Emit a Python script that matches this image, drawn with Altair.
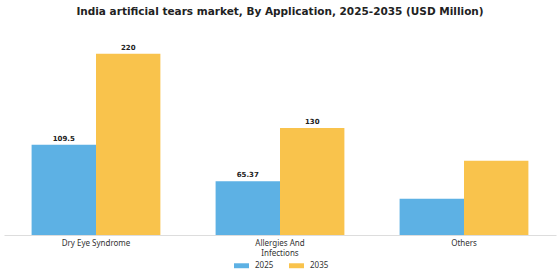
import altair as alt
import pandas as pd

# Market size by application, USD million
applications = ["Dry Eye Syndrome", "Allergies And Infections", "Others"]
values_2025 = [109.5, 65.37, 44.0]
values_2035 = [220.0, 130.0, 90.0]
labels_2025 = ["109.5", "65.37", ""]
labels_2035 = ["220", "130", ""]
years = ["2025", "2035"]

rows = []
for i, app in enumerate(applications):
    rows.append({"app": app, "year": years[0], "value": values_2025[i], "label": labels_2025[i]})
    rows.append({"app": app, "year": years[1], "value": values_2035[i], "label": labels_2035[i]})
df = pd.DataFrame(rows)

colors = ["#5DB1E4", "#F9C34C"]

x_enc = alt.X(
    "app:N",
    sort=applications,
    scale=alt.Scale(paddingInner=0.3, paddingOuter=0.15),
    axis=alt.Axis(
        title=None,
        labelAngle=0,
        ticks=False,
        domainColor="#dddddd",
        labelColor="#333333",
        labelFont="Noto Sans",
        labelFontSize=8,
        labelPadding=4,
        labelLineHeight=10,
        labelExpr="datum.value == 'Allergies And Infections' ? ['Allergies And', 'Infections'] : datum.label",
    ),
)
y_enc = alt.Y("value:Q", scale=alt.Scale(domain=[0, 250]), axis=None)

base = alt.Chart(df).encode(x=x_enc, xOffset=alt.XOffset("year:N", sort=years))

bars = base.mark_bar().encode(
    y=y_enc,
    color=alt.Color(
        "year:N",
        sort=years,
        scale=alt.Scale(domain=years, range=colors),
        legend=alt.Legend(
            title=None,
            orient="none",
            direction="horizontal",
            legendX=230,
            legendY=229,
            symbolType="M-1,-0.33H1V0.33H-1Z",
            symbolSize=225,
            symbolStrokeWidth=0,
            labelOffset=6,
            labelFont="Noto Sans",
            labelFontSize=8,
            labelColor="#333333",
            columnPadding=15,
        ),
    ),
)

text = base.mark_text(
    dy=-6, font="DejaVu Sans", fontWeight="bold", fontSize=7, color="#222222"
).encode(y=y_enc, text="label:N")

chart = (
    alt.layer(bars, text)
    .properties(
        width=552,
        height=206,
        title=alt.TitleParams(
            "India artificial tears market, By Application, 2025-2035 (USD Million)",
            font="DejaVu Sans",
            fontSize=10.5,
            fontWeight="bold",
            color="#222222",
            anchor="middle",
            offset=12,
        ),
        autosize=alt.AutoSizeParams(type="none"),
        padding={"left": 4, "top": 29, "right": 4, "bottom": 45},
    )
    .configure_view(stroke=None)
)

chart.save("out.html", embed_options={"renderer": "svg", "actions": False})
